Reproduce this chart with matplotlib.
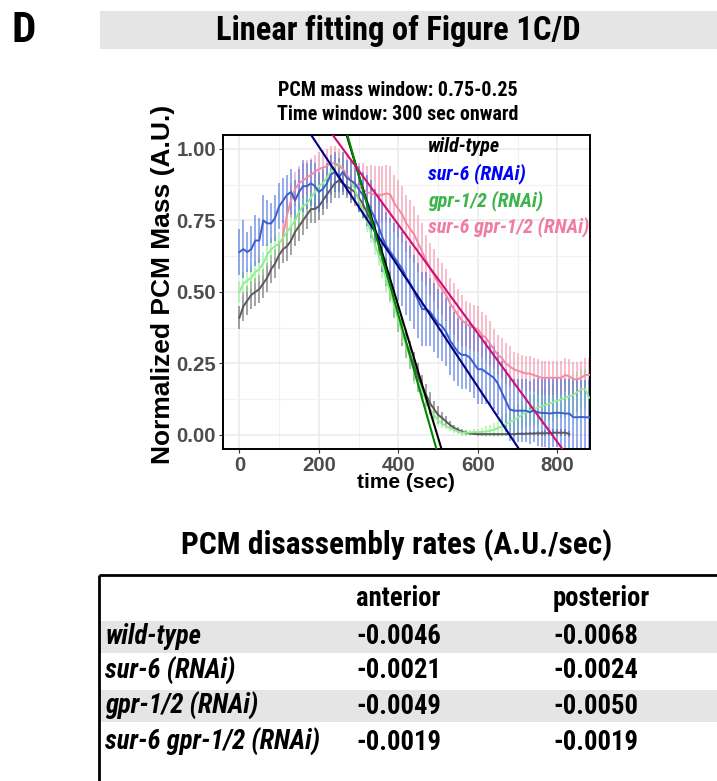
import numpy as np
import matplotlib
matplotlib.use("Agg")
import matplotlib.pyplot as plt
from matplotlib import font_manager
from matplotlib.patches import Rectangle

# sample times (sec), one every 10 s
time_sec = np.arange(0, 890, 10)

series_names = ["wild-type", "sur-6 (RNAi)", "gpr-1/2 (RNAi)", "sur-6 gpr-1/2 (RNAi)"]

# wild-type: 0..830 s
wt_mean = [0.41, 0.45, 0.47, 0.49, 0.50, 0.51, 0.53, 0.55, 0.58, 0.60,
           0.63, 0.65, 0.66, 0.68, 0.71, 0.73, 0.75, 0.77, 0.79, 0.79,
           0.80, 0.82, 0.84, 0.86, 0.88, 0.89, 0.88, 0.87, 0.86, 0.85,
           0.83, 0.81, 0.78, 0.75, 0.72, 0.67, 0.62, 0.57, 0.52, 0.46,
           0.41, 0.36, 0.32, 0.28, 0.24, 0.20, 0.17, 0.14, 0.11, 0.09,
           0.07, 0.06, 0.047, 0.035, 0.025, 0.018, 0.012, 0.008, 0.005, 0.004,
           0.003, 0.003, 0.003, 0.003, 0.003, 0.003, 0.003, 0.003, 0.003, 0.003,
           0.004, 0.004, 0.004, 0.005, 0.005, 0.006, 0.006, 0.006, 0.007, 0.008,
           0.008, 0.008, 0.008, 0.003]
wt_err = [0.04, 0.05, 0.05, 0.05, 0.05, 0.05, 0.05, 0.05, 0.05, 0.05,
          0.05, 0.05, 0.05, 0.05, 0.05, 0.05, 0.05, 0.05, 0.05, 0.05,
          0.05, 0.05, 0.05, 0.05, 0.05, 0.04, 0.04, 0.04, 0.05, 0.05,
          0.05, 0.05, 0.05, 0.05, 0.05, 0.05, 0.05, 0.05, 0.05, 0.05,
          0.05, 0.05, 0.05, 0.05, 0.05, 0.05, 0.04, 0.04, 0.04, 0.03,
          0.03, 0.02, 0.02, 0.015, 0.01, 0.01, 0.01, 0.008, 0.006, 0.005,
          0.005, 0.005, 0.005, 0.005, 0.005, 0.005, 0.005, 0.005, 0.005, 0.005,
          0.005, 0.005, 0.005, 0.006, 0.006, 0.008, 0.008, 0.01, 0.01, 0.012,
          0.012, 0.012, 0.012, 0.01]

# sur-6 (RNAi): 0..880 s
sur6_mean = [0.64, 0.65, 0.64, 0.65, 0.68, 0.68, 0.75, 0.74, 0.74, 0.76,
             0.80, 0.82, 0.84, 0.85, 0.82, 0.85, 0.87, 0.87, 0.88, 0.87,
             0.85, 0.86, 0.88, 0.91, 0.92, 0.90, 0.92, 0.90, 0.89, 0.88,
             0.86, 0.84, 0.82, 0.79, 0.76, 0.73, 0.69, 0.66, 0.64, 0.62,
             0.60, 0.58, 0.55, 0.53, 0.50, 0.47, 0.44, 0.44, 0.43, 0.41,
             0.39, 0.38, 0.36, 0.33, 0.31, 0.29, 0.28, 0.28, 0.27, 0.25,
             0.23, 0.23, 0.22, 0.21, 0.20, 0.18, 0.15, 0.12, 0.09, 0.085,
             0.085, 0.085, 0.085, 0.08, 0.085, 0.08, 0.077, 0.077, 0.075, 0.077,
             0.078, 0.077, 0.075, 0.075, 0.062, 0.062, 0.063, 0.062, 0.062]
sur6_err = [0.08, 0.10, 0.07, 0.08, 0.09, 0.08, 0.09, 0.08, 0.07, 0.08,
            0.08, 0.08, 0.07, 0.08, 0.07, 0.08, 0.09, 0.08, 0.08, 0.08,
            0.07, 0.07, 0.07, 0.07, 0.07, 0.07, 0.07, 0.06, 0.07, 0.07,
            0.08, 0.08, 0.09, 0.10, 0.10, 0.11, 0.12, 0.12, 0.12, 0.12,
            0.13, 0.13, 0.13, 0.13, 0.13, 0.13, 0.13, 0.13, 0.12, 0.12,
            0.12, 0.12, 0.12, 0.12, 0.12, 0.12, 0.12, 0.12, 0.12, 0.12,
            0.12, 0.12, 0.11, 0.11, 0.11, 0.11, 0.11, 0.11, 0.11, 0.11,
            0.11, 0.11, 0.11, 0.11, 0.11, 0.12, 0.12, 0.12, 0.12, 0.12,
            0.12, 0.12, 0.12, 0.12, 0.13, 0.13, 0.13, 0.13, 0.13]

# gpr-1/2 (RNAi): 0..880 s
gpr_mean = [0.50, 0.53, 0.54, 0.55, 0.57, 0.58, 0.60, 0.63, 0.65, 0.66,
            0.67, 0.69, 0.71, 0.73, 0.75, 0.78, 0.80, 0.81, 0.83, 0.85,
            0.87, 0.88, 0.90, 0.92, 0.94, 0.95, 0.93, 0.91, 0.89, 0.86,
            0.82, 0.79, 0.75, 0.71, 0.67, 0.63, 0.59, 0.54, 0.50, 0.45,
            0.40, 0.36, 0.31, 0.27, 0.22, 0.18, 0.15, 0.12, 0.09, 0.07,
            0.05, 0.04, 0.03, 0.024, 0.018, 0.012, 0.008, 0.008, 0.009, 0.01,
            0.01, 0.011, 0.012, 0.015, 0.018, 0.024, 0.03, 0.038, 0.045, 0.052,
            0.06, 0.07, 0.078, 0.085, 0.09, 0.095, 0.10, 0.105, 0.11, 0.115,
            0.12, 0.125, 0.13, 0.135, 0.14, 0.15, 0.16, 0.16, 0.13]
gpr_err = [0.04, 0.04, 0.04, 0.04, 0.04, 0.04, 0.04, 0.04, 0.04, 0.04,
           0.04, 0.04, 0.04, 0.04, 0.04, 0.04, 0.04, 0.04, 0.04, 0.04,
           0.04, 0.04, 0.04, 0.04, 0.04, 0.04, 0.04, 0.04, 0.04, 0.04,
           0.04, 0.04, 0.04, 0.04, 0.04, 0.04, 0.04, 0.04, 0.04, 0.04,
           0.04, 0.04, 0.04, 0.04, 0.04, 0.03, 0.03, 0.03, 0.02, 0.02,
           0.02, 0.015, 0.01, 0.01, 0.01, 0.01, 0.01, 0.01, 0.01, 0.01,
           0.01, 0.015, 0.02, 0.02, 0.025, 0.03, 0.035, 0.04, 0.04, 0.045,
           0.05, 0.05, 0.05, 0.055, 0.055, 0.06, 0.06, 0.06, 0.06, 0.065,
           0.065, 0.065, 0.07, 0.07, 0.07, 0.07, 0.07, 0.07, 0.07]

# sur-6 gpr-1/2 (RNAi): 110..880 s
dbl_mean = [0.70, 0.77, 0.82, 0.86, 0.88, 0.89, 0.90, 0.91, 0.92, 0.93,
            0.935, 0.94, 0.95, 0.95, 0.94, 0.93, 0.91, 0.89, 0.88, 0.87,
            0.86, 0.85, 0.845, 0.84, 0.84, 0.84, 0.845, 0.84, 0.81, 0.79,
            0.77, 0.74, 0.72, 0.70, 0.67, 0.64, 0.61, 0.58, 0.56, 0.53,
            0.51, 0.49, 0.46, 0.44, 0.42, 0.40, 0.39, 0.38, 0.375, 0.37,
            0.35, 0.34, 0.32, 0.30, 0.28, 0.27, 0.25, 0.24, 0.23, 0.225,
            0.22, 0.215, 0.215, 0.21, 0.205, 0.20, 0.20, 0.20, 0.20, 0.20,
            0.20, 0.21, 0.205, 0.195, 0.195, 0.20, 0.21, 0.21]
dbl_err = [0.05, 0.06, 0.06, 0.06, 0.06, 0.06, 0.06, 0.06, 0.06, 0.06,
           0.06, 0.06, 0.06, 0.06, 0.06, 0.06, 0.07, 0.07, 0.08, 0.08,
           0.09, 0.09, 0.10, 0.10, 0.10, 0.10, 0.10, 0.10, 0.10, 0.10,
           0.10, 0.10, 0.10, 0.10, 0.10, 0.10, 0.09, 0.09, 0.09, 0.09,
           0.09, 0.09, 0.09, 0.09, 0.09, 0.09, 0.08, 0.08, 0.08, 0.08,
           0.08, 0.08, 0.08, 0.07, 0.07, 0.07, 0.07, 0.07, 0.06, 0.06,
           0.06, 0.06, 0.06, 0.06, 0.06, 0.06, 0.06, 0.06, 0.06, 0.06,
           0.06, 0.06, 0.06, 0.06, 0.06, 0.06, 0.06, 0.06]

# linear fits (y = intercept + slope * t), slopes = anterior rates
fit_intercept = [2.29, 1.428, 2.38, 1.495]
anterior_rate = [-0.0046, -0.0021, -0.0049, -0.0019]
posterior_rate = [-0.0068, -0.0024, -0.0050, -0.0019]

x_ticks = [0, 200, 400, 600, 800]
y_ticks = [0.0, 0.25, 0.50, 0.75, 1.00]
y_tick_labels = ["0.00", "0.25", "0.50", "0.75", "1.00"]

# fonts: a narrow face if there is one, else Liberation Sans a bit smaller
names = {f.name for f in font_manager.fontManager.ttflist}
NARROW, k = "Liberation Sans", 0.82
for cand in ["Liberation Sans Narrow", "Arial Narrow", "Roboto Condensed"]:
    if cand in names:
        NARROW, k = cand, 0.96
        break
plt.rcParams["font.family"] = "Liberation Sans"

W, H = 717, 781
fig = plt.figure(figsize=(W / 100, H / 100), dpi=100)

# main plot
l, r, t, b = 222.7, 590, 134.7, 449.3
ax = fig.add_axes([l / W, 1 - b / H, (r - l) / W, (b - t) / H])
ax.set_xlim(-42, 882)
ax.set_ylim(-0.05, 1.05)

series = [
    (time_sec[:len(wt_mean)], wt_mean, wt_err, "#5a5a5a", "#5a5a5a"),
    (time_sec, gpr_mean, gpr_err, "#90ee90", "#90ee90"),
    (time_sec[11:], dbl_mean, dbl_err, "#f28aa6", "#f28aa6"),
    (time_sec, sur6_mean, sur6_err, "#3a5fcd", "#4169e1"),
]
for x, m, e, lc, ec in series:
    m = np.array(m)
    e = np.array(e)
    ax.vlines(x, m - e, m + e, color=ec, alpha=0.7, lw=1.1, zorder=2)
for x, m, e, lc, ec in series:
    ax.plot(x, m, color=lc, lw=1.4, zorder=3)

fit_colors = ["#000000", "#000080", "#008800", "#cd1076"]
for a0, s, c in zip(fit_intercept, anterior_rate, fit_colors):
    ax.axline((0, a0), slope=s, color=c, lw=1.5, zorder=4)

ax.set_xticks(x_ticks)
ax.set_yticks(y_ticks)
ax.set_yticklabels(y_tick_labels)
ax.set_xticks([100, 300, 500, 700], minor=True)
ax.set_yticks([0.125, 0.375, 0.625, 0.875], minor=True)
ax.grid(which="major", color="#ebebeb", lw=1.1)
ax.grid(which="minor", color="#f2f2f2", lw=0.8)
ax.set_axisbelow(True)
ax.tick_params(which="major", length=2.75, width=0.8, color="#333333", labelsize=14.7,
               labelcolor="#4d4d4d", pad=2)
ax.tick_params(which="minor", length=0)
for lab in ax.get_xticklabels() + ax.get_yticklabels():
    lab.set_fontweight("bold")
for sp in ax.spines.values():
    sp.set_linewidth(1.4)
    sp.set_color("black")

# overlay in pixel coordinates for header, labels and table (drawn on top)
bg = fig.add_axes([0, 0, 1, 1])
bg.set_xlim(0, W)
bg.set_ylim(H, 0)
bg.axis("off")
bg.set_zorder(5)

bg.text(12, 31, "D", fontsize=31, fontweight="bold", family=NARROW, ha="left", va="center")
bg.add_patch(Rectangle((100, 11), W - 100, 38, facecolor="#e5e5e5", edgecolor="none"))
bg.text(398, 31, "Linear fitting of Figure 1C/D", fontsize=24.5 * k, fontweight="bold",
        family=NARROW, ha="center", va="center")

bg.text(398, 90, "PCM mass window: 0.75-0.25", fontsize=15 * k, fontweight="bold",
        family=NARROW, ha="center", va="center")
bg.text(398, 115, "Time window: 300 sec onward", fontsize=15 * k, fontweight="bold",
        family=NARROW, ha="center", va="center")
bg.text(163, 284, "Normalized PCM Mass (A.U.)", fontsize=19, fontweight="bold",
        rotation=90, ha="center", va="center")
bg.text(406, 483, "time (sec)", fontsize=15, fontweight="bold", ha="center", va="center")

# legend-like labels inside the panel
label_colors = ["#000000", "#0000ff", "#3cb44b", "#f07ca0"]
for i, (name, c) in enumerate(zip(series_names, label_colors)):
    bg.text(428, 147 + 26.7 * i, name, fontsize=15 * k, fontweight="bold", style="italic",
            family=NARROW, color=c, ha="left", va="center")

# table
bg.text(397, 545, "PCM disassembly rates (A.U./sec)", fontsize=23.5 * k, fontweight="bold",
        family=NARROW, ha="center", va="center")
bg.plot([99, W], [575, 575], color="black", lw=2, solid_capstyle="butt")
bg.plot([99, 99], [575, H], color="black", lw=2, solid_capstyle="butt")
row_y = [637, 671, 706, 742]
for i in (0, 2):
    bg.add_patch(Rectangle((100, row_y[i] - 16), W - 100, 32, facecolor="#e5e5e5", edgecolor="none"))
bg.text(356, 598, "anterior", fontsize=20 * k, fontweight="bold", family=NARROW, ha="left", va="center")
bg.text(553, 598, "posterior", fontsize=20 * k, fontweight="bold", family=NARROW, ha="left", va="center")
for y, name, a, p in zip(row_y, series_names, anterior_rate, posterior_rate):
    bg.text(105, y, name, fontsize=20 * k, fontweight="bold", style="italic", family=NARROW,
            ha="left", va="center")
    bg.text(356, y, f"{a:.4f}", fontsize=20 * k, fontweight="bold", family=NARROW, ha="left", va="center")
    bg.text(553, y, f"{p:.4f}", fontsize=20 * k, fontweight="bold", family=NARROW, ha="left", va="center")

fig.savefig("out.png", dpi=100)
